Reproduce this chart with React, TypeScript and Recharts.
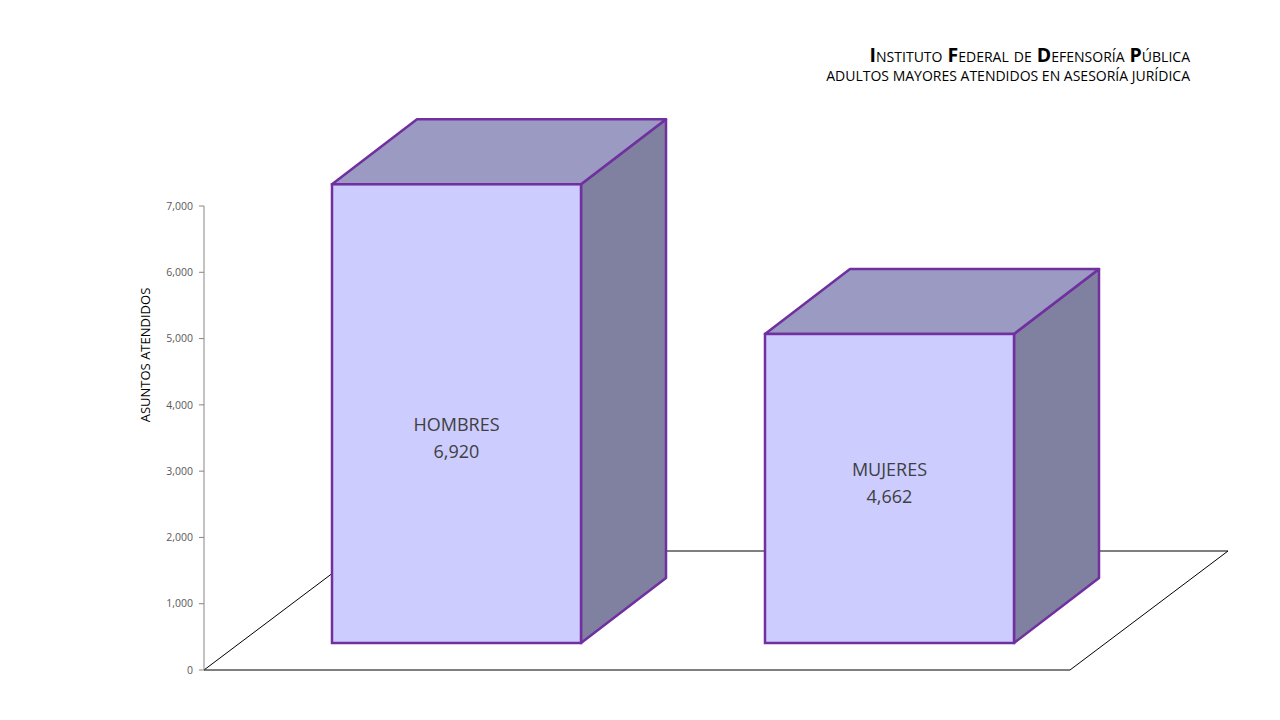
import React from 'react'
import { BarChart, Bar, XAxis, YAxis, ReferenceArea } from 'recharts'

const categories = ['HOMBRES', 'MUJERES']
const asuntos = [6920, 4662]
const yTicks = [0, 1000, 2000, 3000, 4000, 5000, 6000, 7000]

const data = categories.map((name, i) => ({ name, value: asuntos[i] }))

// 3D projection: depth of the floor, where the boxes start, how deep they are
const FLOOR = { dx: 158, dy: -119 }
const SHIFT = { dx: 36, dy: -27 }
const BOX = { dx: 85, dy: -65 }

const STROKE = '#7030A0'
const FONT = '"Open Sans", sans-serif'

const fmt = (v: number) => v.toLocaleString('en-US')

function Floor(props: any) {
    const { x, y, width, height } = props
    const by = y + height
    const pts = [
        [x, by],
        [x + width, by],
        [x + width + FLOOR.dx, by + FLOOR.dy],
        [x + FLOOR.dx, by + FLOOR.dy]
    ]
    return (
        <polygon
            points={pts.map(p => p.join(',')).join(' ')}
            fill="#FFFFFF"
            stroke="#000000"
            strokeWidth={1}
        />
    )
}

function Box3D(props: any) {
    const { x, y, width, height, payload } = props
    const fx = x + SHIFT.dx
    const fy = y + SHIFT.dy
    const r = fx + width
    const b = fy + height
    const top = [
        [fx, fy],
        [r, fy],
        [r + BOX.dx, fy + BOX.dy],
        [fx + BOX.dx, fy + BOX.dy]
    ]
    const side = [
        [r, fy],
        [r + BOX.dx, fy + BOX.dy],
        [r + BOX.dx, b + BOX.dy],
        [r, b]
    ]
    const toPts = (a: number[][]) => a.map(p => p.join(',')).join(' ')
    const cx = fx + width / 2
    // label sits a bit lower on tall boxes, a bit higher on short ones
    const cy = b - (height * 0.3 + 68)
    return (
        <g>
            <polygon points={toPts(side)} fill="#8080A0" stroke={STROKE} strokeWidth={2.5} strokeLinejoin="round" />
            <polygon points={toPts(top)} fill="#9A9AC2" stroke={STROKE} strokeWidth={2.5} strokeLinejoin="round" />
            <rect x={fx} y={fy} width={width} height={height} fill="#CCCCFF" stroke={STROKE} strokeWidth={2.5} />
            <text x={cx} y={cy - 13} textAnchor="middle" dominantBaseline="central" fontFamily={FONT} fontSize={18} fill="#404040">
                {payload.name}
            </text>
            <text x={cx} y={cy + 14} textAnchor="middle" dominantBaseline="central" fontFamily={FONT} fontSize={18} fill="#404040">
                {fmt(payload.value)}
            </text>
        </g>
    )
}

export default function App() {
    return (
        <div style={{ position: 'absolute', left: 0, top: 0, width: 1280, height: 720, background: '#FFFFFF' }}>
            <div
                style={{
                    position: 'absolute',
                    right: 90,
                    top: 43,
                    textAlign: 'right',
                    fontFamily: FONT,
                    color: '#000000'
                }}
            >
                <div style={{ fontSize: 19.5, fontVariant: 'small-caps', lineHeight: '23px' }}>
                    <b>I</b>nstituto <b>F</b>ederal de <b>D</b>efensoría <b>P</b>ública
                </div>
                <div style={{ fontSize: 14, lineHeight: '19px' }}>ADULTOS MAYORES ATENDIDOS EN ASESORÍA JURÍDICA</div>
            </div>
            <BarChart
                width={1280}
                height={720}
                data={data}
                margin={{ top: 206, right: 210, bottom: 50, left: 134 }}
            >
                <XAxis dataKey="name" hide />
                <YAxis
                    width={70}
                    domain={[0, 7000]}
                    ticks={yTicks}
                    interval={0}
                    tickFormatter={fmt}
                    axisLine={{ stroke: '#868686' }}
                    tickLine={{ stroke: '#868686' }}
                    tickSize={5}
                    tickMargin={6}
                    tick={{ fill: '#595959', fontSize: 10.5, fontFamily: FONT }}
                    label={{
                        content: () => (
                            <text
                                x={145}
                                y={355}
                                transform="rotate(-90 145 355)"
                                textAnchor="middle"
                                dominantBaseline="central"
                                fontFamily={FONT}
                                fontSize={13}
                                fill="#000000"
                            >
                                ASUNTOS ATENDIDOS
                            </text>
                        )
                    }}
                />
                <ReferenceArea y1={0} y2={7000} shape={<Floor />} ifOverflow="visible" />
                <Bar dataKey="value" barSize={249} shape={<Box3D />} isAnimationActive={false} />
            </BarChart>
        </div>
    )
}
